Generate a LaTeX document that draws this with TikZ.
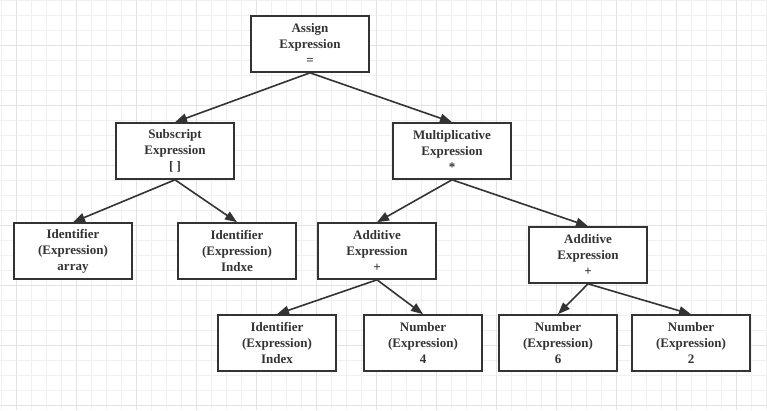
\documentclass[tikz,border=0pt]{standalone}
\usepackage{fontspec}
\setmainfont{Liberation Serif}
\usetikzlibrary{arrows.meta}
\definecolor{inkgray}{HTML}{333333}
\definecolor{gridfine}{HTML}{F0F0F0}
\definecolor{gridbold}{HTML}{E3E3E3}

\begin{document}
\begin{tikzpicture}[
		x=1pt, y=-1pt,
		every node/.style={rectangle, draw=inkgray, line width=1.6pt, minimum width=118pt, minimum height=56pt, inner sep=0pt, align=center, text=inkgray, font=\fontsize{13}{16}\selectfont\bfseries},
		every edge/.style={draw=inkgray, line width=1.6pt, -{Triangle[length=12pt, width=9pt]}}
	]
  \useasboundingbox (0,0) rectangle (767,410);
  % background grid
  \foreach \gx in {1,16,...,766} \draw[gridfine, line width=0.8pt] (\gx,0) -- (\gx,410);
  \foreach \gy in {0,15,...,405} \draw[gridfine, line width=0.8pt] (0,\gy) -- (767,\gy);
  \foreach \gx in {16,76,...,736} \draw[gridbold, line width=0.8pt] (\gx,0) -- (\gx,410);
  \foreach \gy in {45,105,...,405} \draw[gridbold, line width=0.8pt] (0,\gy) -- (767,\gy);
  \node (assign) [fill=white] at (310,44) {Assign\\Expression\\=};
  \node (subscript) [fill=white] at (175,151) {Subscript\\Expression\\{[ ]}};
  \node (mult) [fill=white] at (452,151) {Multiplicative\\Expression\\*};
  \node (id_array) [fill=white] at (73,251) {Identifier\\(Expression)\\array};
  \node (id_indxe) [fill=white] at (237,251) {Identifier\\(Expression)\\Indxe};
  \node (add_l) [fill=white] at (377,251) {Additive\\Expression\\+};
  \node (add_r) [fill=white] at (588,255) {Additive\\Expression\\+};
  \node (id_index) [fill=white] at (277,343) {Identifier\\(Expression)\\Index};
  \node (num_4) [fill=white] at (423,343) {Number\\(Expression)\\4};
  \node (num_6) [fill=white] at (558,343) {Number\\(Expression)\\6};
  \node (num_2) [fill=white] at (691,343) {Number\\(Expression)\\2};
  \draw (assign.south) edge (subscript.north);
  \draw (assign.south) edge (mult.north);
  \draw (subscript.south) edge (id_array.north);
  \draw (subscript.south) edge (id_indxe.north);
  \draw (mult.south) edge (add_l.north);
  \draw (mult.south) edge (add_r.north);
  \draw (add_l.south) edge (id_index.north);
  \draw (add_l.south) edge (num_4.north);
  \draw (add_r.south) edge (num_6.north);
  \draw (add_r.south) edge (num_2.north);
\end{tikzpicture}
\end{document}
